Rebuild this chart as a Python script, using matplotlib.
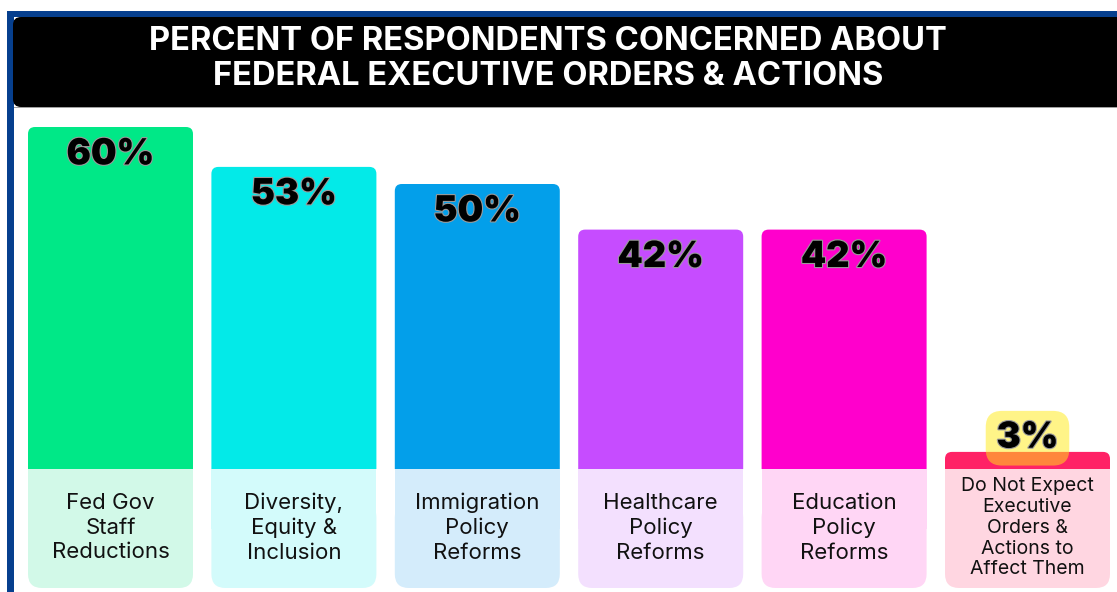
#!/usr/bin/env python3
"""
Bar chart: percent of respondents concerned about federal executive orders & actions.
Coloured bars with rounded tops sitting on light label boxes.
"""

import matplotlib
matplotlib.use("Agg")
import matplotlib.pyplot as plt
from matplotlib.patches import FancyBboxPatch, Rectangle
import matplotlib.patheffects as pe

TITLE = "PERCENT OF RESPONDENTS CONCERNED ABOUT\nFEDERAL EXECUTIVE ORDERS & ACTIONS"

categories = [
    "Fed Gov\nStaff\nReductions",
    "Diversity,\nEquity &\nInclusion",
    "Immigration\nPolicy\nReforms",
    "Healthcare\nPolicy\nReforms",
    "Education\nPolicy\nReforms",
    "Do Not Expect\nExecutive\nOrders &\nActions to\nAffect Them",
]
values = [60, 53, 50, 42, 42, 3]
bar_colors = ["#00E887", "#03EAE8", "#039FEA", "#C64CFF", "#FF00CC", "#FF2266"]
box_colors = ["#D2F9E8", "#D3FBFB", "#D4ECFB", "#F3E0FE", "#FFD6F5", "#FFD6E1"]

W, H = 1117, 592
# pixel geometry of the plotting frame
X0, DX = 110.5, 183.4      # centre of first bar, spacing (px)
Y0, SY = 469.0, 5.7        # baseline (px from top), px per percent
BOX_PX = 119               # height of the label boxes
BAR_W = 165 / DX

FONT = ["Inter", "DejaVu Sans"]


def main() -> None:
    fig = plt.figure(figsize=(W / 100, H / 100), dpi=100)
    fig.patch.set_facecolor("white")

    # decoration layer in pixel coords
    deco = fig.add_axes([0, 0, 1, 1])
    deco.set_xlim(0, W)
    deco.set_ylim(H, 0)
    deco.axis("off")
    deco.add_patch(Rectangle((7, 11), W, H, facecolor="#063F8E", lw=0, zorder=1))
    deco.add_patch(Rectangle((14, 17), W, H, facecolor="white", lw=0, zorder=2))
    deco.add_patch(Rectangle((14, 107), W, 1.2, facecolor="#A0A0A0", lw=0, zorder=3))
    deco.add_patch(FancyBboxPatch((13, 17), W + 40, 90,
                                  boxstyle="round,pad=0,rounding_size=8",
                                  facecolor="black", lw=0, zorder=4))
    deco.text(548, 59, TITLE, color="white", fontsize=23.5, fontweight="bold",
              family=FONT, ha="center", va="center", linespacing=1.13, zorder=5)

    # data layer
    ax = fig.add_axes([0, 0, 1, 1])
    ax.patch.set_visible(False)
    ax.set_xlim(-X0 / DX, (W - X0) / DX)
    ax.set_ylim(-(H - Y0) / SY, Y0 / SY)
    ax.axis("off")

    aspect = DX / SY
    box_h = BOX_PX / SY
    for i, (cat, v) in enumerate(zip(categories, values)):
        left = i - BAR_W / 2
        # coloured bar with rounded top, clipped at the baseline
        bar = FancyBboxPatch((left, -8), BAR_W, v + 8,
                             boxstyle=f"round,pad=0,rounding_size={7 / DX}",
                             mutation_aspect=aspect,
                             facecolor=bar_colors[i], lw=0, zorder=2)
        ax.add_patch(bar)
        bar.set_clip_path(Rectangle((left - 1, 0), BAR_W + 2, 200,
                                    transform=ax.transData))
        # label box: square top, rounded bottom
        ax.add_patch(FancyBboxPatch((left, -box_h), BAR_W, box_h - 6,
                                    boxstyle=f"round,pad=0,rounding_size={14 / DX}",
                                    mutation_aspect=aspect,
                                    facecolor=box_colors[i], lw=0, zorder=3))
        ax.add_patch(Rectangle((left, -box_h / 2), BAR_W, box_h / 2,
                               facecolor=box_colors[i], lw=0, zorder=3))
        small = len(cat.split("\n")) > 3
        ax.text(i, -10.3, cat, ha="center", va="center", family=FONT,
                fontsize=14 if small else 16, linespacing=1.2 if small else 1.28,
                color="#111111", zorder=4)

        # value labels
        label = f"{v}%"
        if v > 10:
            ty = v - 4.9
            bbox = None
        else:
            ty = v + 2.4
            bbox = dict(boxstyle="round,pad=0.3,rounding_size=0.45",
                        facecolor="#FFEB13", alpha=0.5, lw=0)
        t = ax.text(i, ty, label, ha="center", va="center", family=FONT,
                    fontsize=26, fontweight="black", color="black", zorder=5,
                    bbox=bbox)
        t.set_path_effects([pe.withStroke(linewidth=1.6, foreground="#9A9A9A")])

    fig.savefig("out.png", dpi=100)
    plt.close(fig)


if __name__ == "__main__":
    main()
